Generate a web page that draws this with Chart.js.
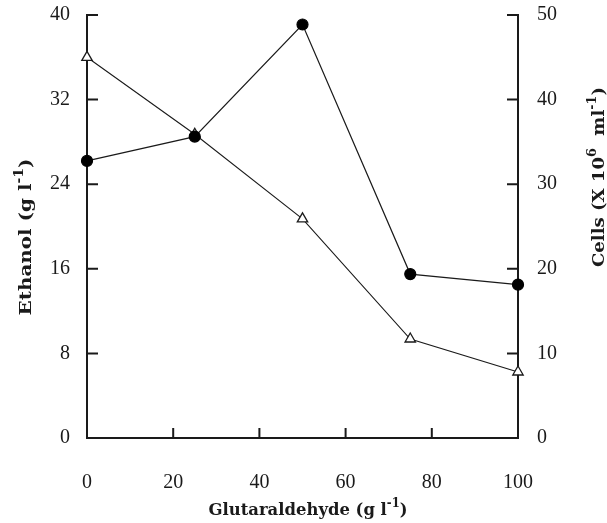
<!DOCTYPE html>
<html><head><meta charset="utf-8">
<script src="https://cdn.jsdelivr.net/npm/chart.js@4/dist/chart.umd.min.js"></script>
<style>html,body{margin:0;padding:0;background:#fff}canvas{display:block}</style>
</head><body>
<canvas id="c" width="607" height="523"></canvas>
<script>
const glutaraldehyde = [0, 25, 50, 75, 100];
const ethanol = [26.2, 28.5, 39.1, 15.5, 14.5];
const cells = [45.0, 35.9, 25.9, 11.7, 7.8];
const xTicks = [0, 20, 40, 60, 80, 100];
const ethanolTicks = [0, 8, 16, 24, 32, 40];
const cellTicks = [0, 10, 20, 30, 40, 50];
const xTitle = [{t:'Glutaraldehyde (g l'},{t:'-1',sup:true},{t:')'}];
const leftTitle = [{t:'Ethanol (g l'},{t:'-1',sup:true},{t:')'}];
const rightTitle = [{t:'Cells (X 10'},{t:'6',sup:true},{t:'  ml'},{t:'-1',sup:true},{t:')'}];

const INK = '#1a1a1a';
const FONT = '"Liberation Serif", "DejaVu Serif", serif';
const TFONT = '"DejaVu Serif", "Liberation Serif", serif';

function rich(ctx, parts, x, y, rot, size, weight, target) {
  ctx.save();
  ctx.translate(x, y);
  ctx.rotate(rot);
  const main = weight + ' ' + size + 'px ' + TFONT;
  const sup = weight + ' ' + Math.round(size * 0.68) + 'px ' + TFONT;
  let w = 0;
  parts.forEach(p => { ctx.font = p.sup ? sup : main; p.w = ctx.measureText(p.t).width; w += p.w; });
  const k = target ? Math.min(1.35, Math.max(0.75, target / w)) : 1;
  ctx.scale(k, 1);
  let cx = -w / 2;
  ctx.fillStyle = INK;
  ctx.textBaseline = 'alphabetic';
  ctx.textAlign = 'left';
  parts.forEach(p => {
    ctx.font = p.sup ? sup : main;
    ctx.fillText(p.t, cx, p.sup ? -size * 0.45 : 0);
    cx += p.w;
  });
  ctx.restore();
}

const deco = {
  id: 'deco',
  afterDraw(chart) {
    const ctx = chart.ctx;
    const a = chart.chartArea;
    const sx = chart.scales.x, yl = chart.scales.yL, yr = chart.scales.yR;
    ctx.save();
    ctx.strokeStyle = INK;
    ctx.lineWidth = 2;
    ctx.beginPath();
    xTicks.forEach(v => { const p = sx.getPixelForValue(v); ctx.moveTo(p, a.bottom); ctx.lineTo(p, a.bottom - 10); });
    ethanolTicks.forEach(v => { const p = yl.getPixelForValue(v); ctx.moveTo(a.left, p); ctx.lineTo(a.left + 11, p); });
    cellTicks.forEach(v => { const p = yr.getPixelForValue(v); ctx.moveTo(a.right, p); ctx.lineTo(a.right - 11, p); });
    ctx.stroke();
    ctx.restore();
    rich(ctx, xTitle, 308, 515, 0, 17, '600', 199);
    rich(ctx, leftTitle, 31, 237, -Math.PI / 2, 17, 'bold', 157);
    rich(ctx, rightTitle, 604, 177, -Math.PI / 2, 17, 'bold', 180);
  }
};

const tickFont = { family: FONT, size: 20 };
const zeroPadY = s => { s.paddingTop = 0; s.paddingBottom = 0; };
const zeroPadX = s => { s.paddingLeft = 0; s.paddingRight = 0; };

new Chart(document.getElementById('c'), {
  type: 'line',
  data: {
    datasets: [
      {
        label: 'Ethanol',
        data: glutaraldehyde.map((x, i) => ({ x, y: ethanol[i] })),
        yAxisID: 'yL',
        borderColor: INK, borderWidth: 1.2,
        pointStyle: 'circle', pointRadius: 5.5,
        pointBackgroundColor: '#000', pointBorderColor: '#000',
        tension: 0, clip: false
      },
      {
        label: 'Cells',
        data: glutaraldehyde.map((x, i) => ({ x, y: cells[i] })),
        yAxisID: 'yR',
        borderColor: INK, borderWidth: 1.1,
        pointStyle: 'triangle', pointRadius: 6,
        pointBackgroundColor: '#fff', pointBorderColor: INK, pointBorderWidth: 1.3,
        tension: 0, clip: false
      }
    ]
  },
  options: {
    responsive: false,
    animation: false,
    devicePixelRatio: 1,
    layout: { padding: { top: 15, left: 0, right: 0, bottom: 0 } },
    plugins: { legend: { display: false }, tooltip: { enabled: false } },
    scales: {
      x: {
        type: 'linear', min: 0, max: 100,
        afterBuildTicks: s => { s.ticks = xTicks.map(v => ({ value: v })); },
        afterFit: s => { s.height = 85; zeroPadX(s); },
        grid: { drawOnChartArea: false, drawTicks: false },
        border: { display: true, color: INK, width: 2 },
        ticks: { font: tickFont, color: INK, padding: 33, maxRotation: 0 }
      },
      yL: {
        type: 'linear', position: 'left', min: 0, max: 40,
        afterBuildTicks: s => { s.ticks = ethanolTicks.map(v => ({ value: v })); },
        afterFit: s => { s.width = 87; zeroPadY(s); },
        grid: { drawOnChartArea: false, drawTicks: false },
        border: { display: true, color: INK, width: 2 },
        ticks: { font: tickFont, color: INK, padding: 17 }
      },
      yR: {
        type: 'linear', position: 'right', min: 0, max: 50,
        afterBuildTicks: s => { s.ticks = cellTicks.map(v => ({ value: v })); },
        afterFit: s => { s.width = 89; zeroPadY(s); },
        grid: { drawOnChartArea: false, drawTicks: false },
        border: { display: true, color: INK, width: 2 },
        ticks: { font: tickFont, color: INK, padding: 19 }
      }
    }
  },
  plugins: [deco]
});
</script>
</body></html>
